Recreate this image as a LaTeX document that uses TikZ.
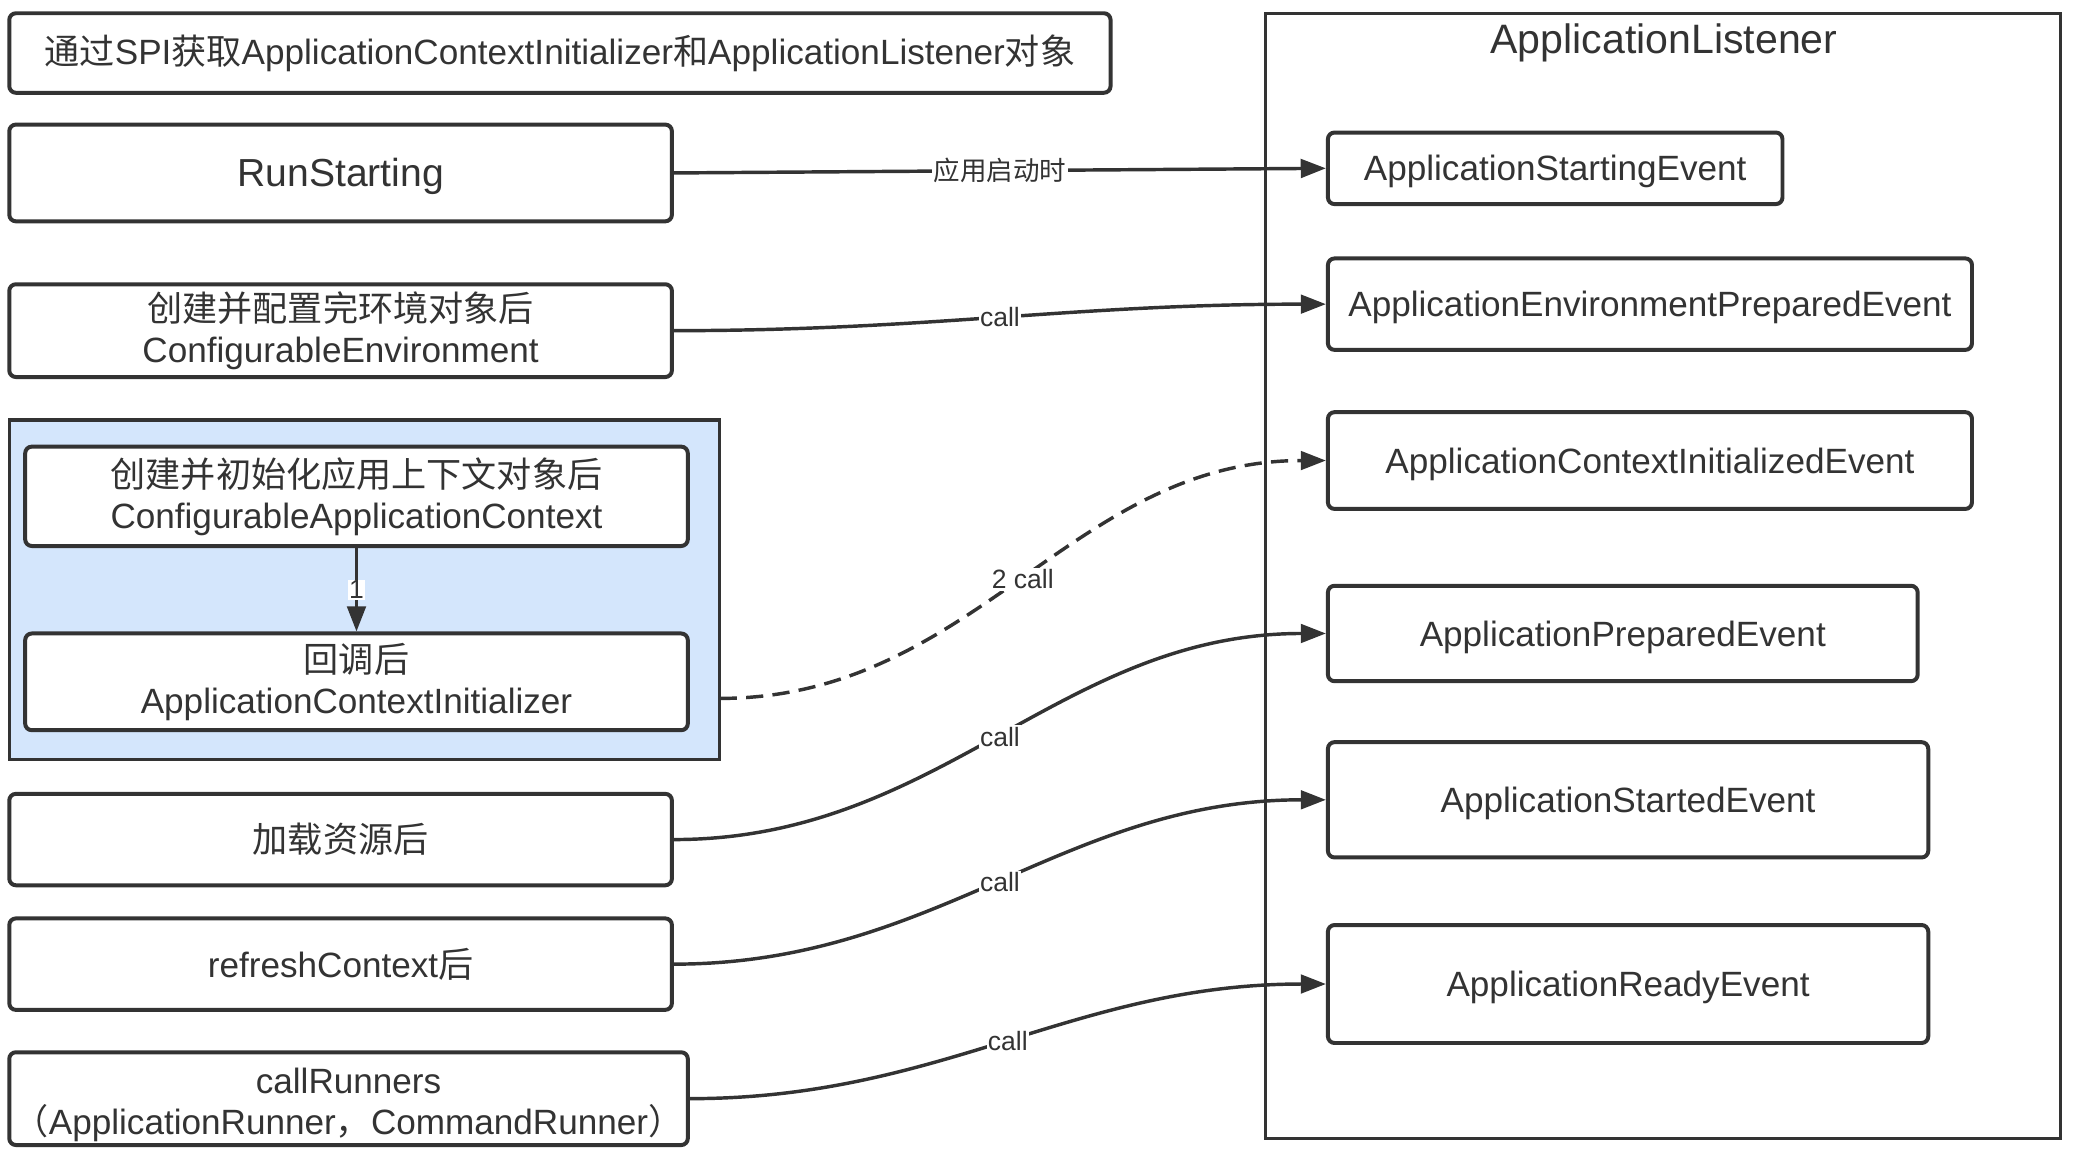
\documentclass[tikz,border=0pt]{standalone}
\usepackage{fontspec}
\setmainfont{Liberation Sans}
\newfontfamily\zhfont{Noto Sans CJK SC}
\newcommand{\zh}[1]{{\zhfont #1}}
\usetikzlibrary{arrows.meta,calc}
\definecolor{ink}{HTML}{333333}
\definecolor{bluefill}{HTML}{D4E6FC}
\tikzset{
  box/.style={draw=ink, line width=3pt, rounded corners=5pt, fill=white, text=ink,
    inner sep=0pt, align=center, font=\fontsize{26.5}{31}\selectfont},
  oneline/.style={text height=19pt, text depth=-2pt},
  frame/.style={draw=ink, line width=2.2pt, inner sep=0pt},
  conn/.style={draw=ink, line width=2.6pt, -{Triangle[length=19pt,width=14pt]}},
  dashconn/.style={conn, dash pattern=on 13pt off 7pt},
  lbl/.style={fill=white, inner sep=1pt, text=ink, font=\fontsize{20}{20}\selectfont},
}
\begin{document}
\begin{tikzpicture}[x=1pt,y=-1pt]
\useasboundingbox (0,0) rectangle (1568,873.8);
% containers
\node[frame, minimum width=600pt, minimum height=849pt] (listener) at (1255,434.5) {};
\node[text=ink, font=\fontsize{31}{36}\selectfont, inner sep=0pt, text height=22pt, text depth=0pt] (ltitle) at (1255.5,29.5) {ApplicationListener};
\node[frame, line width=2.6pt, fill=bluefill, minimum width=536pt, minimum height=256pt] (blue) at (275,445) {};
% left column
\node[box, minimum width=831pt, minimum height=60pt] (top) at (422.5,40)
  {\zh{通过}SPI\zh{获取}ApplicationContextInitializer\zh{和}ApplicationListener\zh{对象}};
\node[box, minimum width=500pt, minimum height=73pt, font=\fontsize{29.5}{34}\selectfont,
  text height=21pt, text depth=-4pt] (run) at (257,130.5) {RunStarting};
\node[box, minimum width=500pt, minimum height=70pt] (env) at (257,249.5)
  {\zh{创建并配置完环境对象后}\\ConfigurableEnvironment};
\node[box, minimum width=500pt, minimum height=75pt] (ctx) at (269,374.5)
  {\zh{创建并初始化应用上下文对象后}\\ConfigurableApplicationContext};
\node[box, minimum width=500pt, minimum height=73pt] (init) at (269,514.5)
  {\zh{回调后}\\ApplicationContextInitializer};
\node[box, minimum width=500pt, minimum height=69pt] (load) at (257,633.5) {\zh{加载资源后}};
\node[box, minimum width=500pt, minimum height=69pt] (refresh) at (257,727.5) {refreshContext\zh{后}};
\node[box, minimum width=512pt, minimum height=70pt] (runners) at (263,829)
  {\rule{0pt}{29pt}callRunners\\\zh{（}ApplicationRunner\zh{，}CommandRunner\zh{）}};
% events
\node[box, oneline, minimum width=343pt, minimum height=54pt] (e1) at (1173.5,127) {ApplicationStartingEvent};
\node[box, oneline, minimum width=486pt, minimum height=69pt] (e2) at (1245,229.5) {ApplicationEnvironmentPreparedEvent};
\node[box, oneline, minimum width=486pt, minimum height=73pt] (e3) at (1245,347.5) {ApplicationContextInitializedEvent};
\node[box, oneline, minimum width=445pt, minimum height=72pt] (e4) at (1224.5,478) {ApplicationPreparedEvent};
\node[box, oneline, minimum width=453pt, minimum height=87pt] (e5) at (1228.5,603.5) {ApplicationStartedEvent};
\node[box, oneline, minimum width=453pt, minimum height=89pt] (e6) at (1228.5,742.5) {ApplicationReadyEvent};
% connectors
\draw[conn] (run.east) -- node[lbl]{\zh{应用启动时}} (e1.west);
\draw[conn] (env.east) to[out=0,in=180] node[lbl]{call} (e2.west);
\draw[conn] (ctx.south) -- node[lbl, inner sep=0.5pt]{1} (init.north);
\coordinate (ds) at (543,527);
\draw[dashconn] (ds) to[out=0,in=180] node[lbl]{2 call} (e3.west);
\draw[conn] (load.east) to[out=0,in=180] node[lbl]{call} (e4.west);
\draw[conn] (refresh.east) to[out=0,in=180] node[lbl]{call} (e5.west);
\draw[conn] (runners.east) to[out=0,in=180] node[lbl]{call} (e6.west);
\end{tikzpicture}
\end{document}
